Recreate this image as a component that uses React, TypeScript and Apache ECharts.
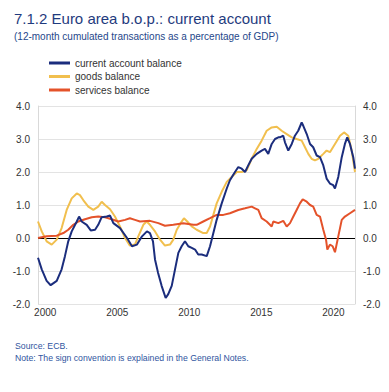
import React, { useEffect, useRef } from "react";
import * as echarts from "echarts";

const caDates = [2000.0, 2000.26, 2000.6, 2000.88, 2001.3, 2001.64, 2001.87, 2002.1, 2002.34, 2002.69, 2002.85, 2003.03, 2003.38, 2003.66, 2003.96, 2004.18, 2004.42, 2004.77, 2005.0, 2005.23, 2005.69, 2006.18, 2006.52, 2006.87, 2007.22, 2007.56, 2007.77, 2007.98, 2008.12, 2008.33, 2008.58, 2008.86, 2009.04, 2009.28, 2009.51, 2009.74, 2009.97, 2010.2, 2010.43, 2010.67, 2010.9, 2011.12, 2011.36, 2011.71, 2011.94, 2012.17, 2012.4, 2012.75, 2013.1, 2013.32, 2013.67, 2013.9, 2014.14, 2014.37, 2014.59, 2014.83, 2015.18, 2015.52, 2015.75, 2015.98, 2016.22, 2016.45, 2016.68, 2016.79, 2017.02, 2017.14, 2017.37, 2017.61, 2017.83, 2018.06, 2018.3, 2018.41, 2018.65, 2018.88, 2019.1, 2019.34, 2019.57, 2019.8, 2020.03, 2020.26, 2020.49, 2020.61, 2020.84, 2021.08, 2021.3, 2021.46, 2021.65, 2021.88, 2022.0];
const caValues = [-0.6, -0.95, -1.3, -1.43, -1.3, -0.95, -0.55, -0.1, 0.2, 0.5, 0.65, 0.5, 0.4, 0.23, 0.25, 0.4, 0.63, 0.65, 0.68, 0.45, 0.3, 0.0, -0.25, -0.2, 0.05, 0.2, 0.15, -0.1, -0.65, -1.05, -1.45, -1.82, -1.7, -1.45, -0.95, -0.45, -0.25, -0.1, -0.25, -0.3, -0.35, -0.5, -0.5, -0.55, -0.25, 0.15, 0.55, 1.05, 1.5, 1.75, 2.0, 2.15, 2.1, 2.0, 2.2, 2.4, 2.55, 2.65, 2.7, 2.55, 2.85, 3.0, 3.05, 3.05, 3.1, 2.9, 2.65, 2.85, 3.1, 3.25, 3.5, 3.4, 3.15, 2.85, 2.75, 2.5, 2.45, 2.2, 1.8, 1.65, 1.6, 1.5, 1.85, 2.45, 2.85, 3.05, 2.85, 2.45, 2.1];

const goodsDates = [2000.0, 2000.26, 2000.6, 2000.95, 2001.3, 2001.64, 2001.99, 2002.34, 2002.69, 2002.91, 2003.14, 2003.49, 2003.84, 2004.18, 2004.42, 2004.65, 2005.0, 2005.34, 2005.69, 2006.04, 2006.38, 2006.73, 2006.96, 2007.31, 2007.54, 2007.77, 2008.12, 2008.47, 2008.81, 2009.16, 2009.39, 2009.63, 2009.9, 2010.13, 2010.36, 2010.67, 2011.01, 2011.47, 2011.71, 2011.94, 2012.17, 2012.4, 2012.75, 2013.1, 2013.44, 2013.79, 2014.14, 2014.48, 2014.83, 2015.18, 2015.52, 2015.87, 2016.22, 2016.57, 2016.91, 2017.26, 2017.61, 2017.95, 2018.3, 2018.53, 2018.76, 2018.99, 2019.22, 2019.45, 2019.8, 2020.03, 2020.26, 2020.61, 2020.96, 2021.24, 2021.53, 2021.77, 2022.0];
const goodsValues = [0.5, 0.2, -0.1, -0.2, -0.05, 0.3, 0.85, 1.2, 1.35, 1.3, 1.15, 0.95, 0.85, 0.95, 1.1, 1.0, 0.87, 0.65, 0.35, 0.0, -0.23, -0.2, 0.05, 0.4, 0.5, 0.4, 0.2, -0.05, -0.23, -0.2, -0.05, 0.25, 0.45, 0.6, 0.5, 0.35, 0.25, 0.15, 0.15, 0.35, 0.7, 1.05, 1.4, 1.7, 1.85, 2.0, 2.0, 2.05, 2.4, 2.7, 2.95, 3.25, 3.35, 3.37, 3.25, 3.15, 3.05, 3.0, 2.95, 2.75, 2.55, 2.4, 2.35, 2.4, 2.55, 2.65, 2.6, 2.85, 3.1, 3.2, 3.1, 2.65, 2.0];

const servicesDates = [2000.0, 2000.6, 2001.3, 2001.76, 2002.1, 2002.45, 2002.8, 2003.26, 2003.73, 2004.18, 2004.65, 2005.11, 2005.57, 2006.04, 2006.38, 2006.73, 2007.08, 2007.77, 2008.35, 2008.81, 2009.39, 2010.08, 2010.78, 2011.01, 2011.47, 2011.94, 2012.4, 2012.86, 2013.32, 2013.9, 2014.37, 2014.83, 2015.06, 2015.29, 2015.52, 2015.87, 2016.22, 2016.33, 2016.68, 2017.02, 2017.26, 2017.49, 2017.72, 2017.95, 2018.18, 2018.37, 2018.65, 2018.88, 2019.1, 2019.34, 2019.57, 2019.8, 2019.99, 2020.08, 2020.26, 2020.45, 2020.61, 2020.84, 2021.08, 2021.3, 2021.65, 2022.0];
const servicesValues = [0.0, 0.05, 0.07, 0.15, 0.25, 0.4, 0.5, 0.57, 0.63, 0.65, 0.63, 0.57, 0.5, 0.55, 0.6, 0.55, 0.5, 0.52, 0.45, 0.37, 0.4, 0.45, 0.4, 0.4, 0.5, 0.6, 0.7, 0.7, 0.75, 0.85, 0.9, 0.95, 0.9, 0.85, 0.6, 0.5, 0.35, 0.5, 0.45, 0.52, 0.35, 0.45, 0.65, 0.85, 1.05, 1.17, 1.1, 1.0, 0.95, 0.7, 0.65, 0.25, -0.05, -0.35, -0.2, -0.25, -0.43, 0.05, 0.55, 0.65, 0.75, 0.85];

const seriesNames = ["current account balance", "goods balance", "services balance"];
const seriesColors = ["#1b2d7d", "#f1bf4e", "#e4522a"];
const yTicks = [-2, -1, 0, 1, 2, 3, 4];

const zip = (d: number[], v: number[]) => d.map((x, i) => [x, v[i]]);

export default function App() {
  const ref = useRef<HTMLDivElement>(null);
  useEffect(() => {
    if (!ref.current) return;
    const chart = echarts.init(ref.current, null, { renderer: "svg" });
    const font = "Liberation Sans, Arial, sans-serif";
    const yAxisBase = {
      type: "value" as const,
      min: yTicks[0],
      max: yTicks[yTicks.length - 1],
      interval: 1,
      axisTick: { show: false },
      axisLine: { show: true, lineStyle: { color: "#d9d9d9", width: 1 } },
      axisLabel: {
        fontSize: 10,
        color: "#333",
        fontFamily: font,
        formatter: (v: number) => v.toFixed(1),
      },
    };
    chart.setOption({
      animation: false,
      backgroundColor: "#fff",
      title: [
        {
          text: "7.1.2 Euro area b.o.p.: current account",
          left: 9,
          top: 6,
          textStyle: { fontSize: 15, fontWeight: "normal", color: "#1f3b7e", fontFamily: font },
        },
        {
          text: "(12-month cumulated transactions as a percentage of GDP)",
          left: 9,
          top: 26,
          textStyle: { fontSize: 10, fontWeight: "normal", color: "#26478a", fontFamily: font },
        },
        {
          text: "Source: ECB.\nNote: The sign convention is explained in the General Notes.",
          left: 10,
          top: 335,
          textStyle: { fontSize: 8.7, lineHeight: 12, fontWeight: "normal", color: "#2f55a0", fontFamily: font },
        },
      ],
      legend: {
        orient: "vertical",
        left: 44,
        top: 52,
        itemWidth: 21,
        itemHeight: 3,
        itemGap: 1.5,
        icon: "rect",
        textStyle: { fontSize: 10, color: "#333", fontFamily: font, lineHeight: 12 },
        data: seriesNames,
      },
      grid: { left: 38, right: 34, top: 106, bottom: 88, containLabel: false },
      xAxis: {
        type: "value",
        min: 2000,
        max: 2022,
        interval: 0.5,
        axisLine: { show: false },
        axisTick: { show: false },
        splitLine: { show: false },
        axisLabel: {
          fontSize: 10,
          color: "#333",
          fontFamily: font,
          margin: 3,
          formatter: (v: number) => (Math.round(v * 2) % 10 === 1 ? String(Math.round(v - 0.5)) : ""),
        },
      },
      yAxis: [
        { ...yAxisBase, position: "left", splitLine: { show: true, lineStyle: { color: "#e3e3e3", width: 1 } } },
        { ...yAxisBase, position: "right", splitLine: { show: false } },
      ],
      series: [
        {
          name: seriesNames[1],
          type: "line",
          data: zip(goodsDates, goodsValues),
          showSymbol: false,
          lineStyle: { width: 2, color: seriesColors[1] },
          itemStyle: { color: seriesColors[1] },
          z: 2,
        },
        {
          name: seriesNames[2],
          type: "line",
          data: zip(servicesDates, servicesValues),
          showSymbol: false,
          lineStyle: { width: 2, color: seriesColors[2] },
          itemStyle: { color: seriesColors[2] },
          z: 3,
          markLine: {
            silent: true,
            symbol: "none",
            label: { show: false },
            lineStyle: { color: "#000", width: 1, type: "solid" },
            data: [{ yAxis: 0 }],
            z: 1,
          },
        },
        {
          name: seriesNames[0],
          type: "line",
          data: zip(caDates, caValues),
          showSymbol: false,
          lineStyle: { width: 2, color: seriesColors[0] },
          itemStyle: { color: seriesColors[0] },
          z: 4,
        },
      ],
    });
    return () => chart.dispose();
  }, []);
  return <div ref={ref} style={{ width: 389, height: 392, position: "absolute", left: 0, top: 0 }} />;
}
